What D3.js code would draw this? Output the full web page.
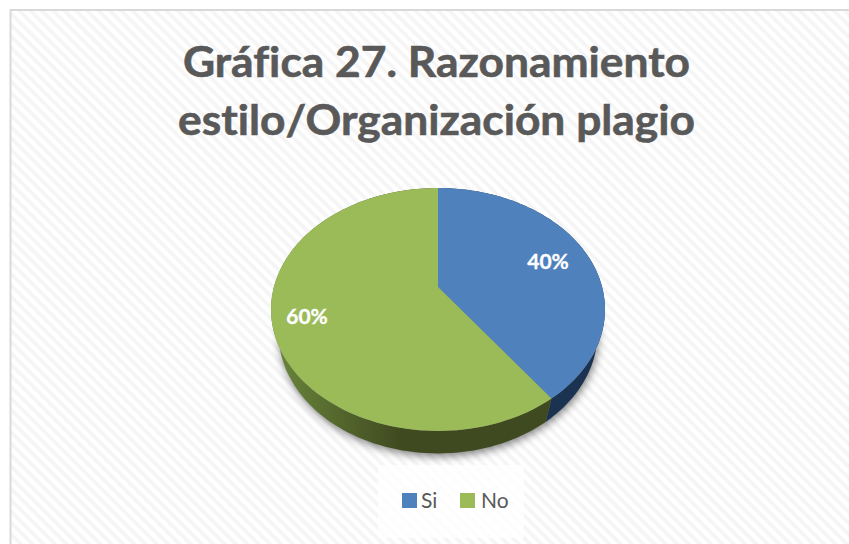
<!DOCTYPE html>
<html><head><meta charset="utf-8">
<script src="https://cdn.jsdelivr.net/npm/d3@7/dist/d3.min.js"></script>
<style>html,body{margin:0;padding:0;background:#fff}svg{display:block}text{font-variant-ligatures:none}</style>
</head><body><svg id="c" width="849" height="544"></svg>
<script>
const titleLines = ["Gráfica 27. Razonamiento", "estilo/Organización plagio"];
const categories = ["Si", "No"];
const values = [40, 60];
const valueLabels = ["40%", "60%"];
const colors = ["#4f81bd", "#9bbb59"];
const FONT = "Lato, 'Open Sans', sans-serif";

const svg = d3.select("#c");
const defs = svg.append("defs");

const pat = defs.append("pattern").attr("id","hatch").attr("width",8).attr("height",8)
  .attr("patternUnits","userSpaceOnUse").attr("patternTransform","rotate(45)");
pat.append("rect").attr("width",8).attr("height",8).attr("fill","#ffffff");
pat.append("rect").attr("width",8).attr("height",3.6).attr("fill","#f5f5f5");

defs.append("filter").attr("id","blur").attr("x","-10%").attr("y","-10%").attr("width","120%").attr("height","120%")
  .append("feGaussianBlur").attr("stdDeviation",4);

const gradGreen = defs.append("linearGradient").attr("id","wallGreen").attr("gradientUnits","userSpaceOnUse")
  .attr("x1",280).attr("x2",400).attr("y1",0).attr("y2",0);
gradGreen.append("stop").attr("offset",0).attr("stop-color","#67833a");
gradGreen.append("stop").attr("offset",1).attr("stop-color","#404a20");

// Chart background and border
svg.append("rect").attr("x",10.5).attr("y",10).attr("width",860).attr("height",560)
  .attr("fill","url(#hatch)").attr("stroke","#d9d9d9").attr("stroke-width",2);

// Title
const titleWidths = [507, 517];
svg.append("g").selectAll("text").data(titleLines).join("text")
  .attr("x",(d,i)=>i?178:183).attr("y",(d,i)=>i?135:76.5)
  .attr("textLength",(d,i)=>titleWidths[i]).attr("lengthAdjust","spacingAndGlyphs")
  .attr("font-family",FONT).attr("font-weight",700)
  .attr("font-size",42).attr("fill","#595959")
  .attr("stroke","#595959").attr("stroke-width",0.6).text(d=>d);

// Perspective projection of the pie's unit disc, fed by d3.pie angles
const cx = 438, cy = 287, a = 164.1, b = 117.3, k = 0.185, depth = 26, shrink = 0.046;
function project(t, r, lower){
  const u = r*Math.sin(t), v = -r*Math.cos(t);
  const w = 1 - k*v + (lower ? shrink : 0);
  return [cx + a*u/w, cy + (b*v + (lower ? depth : 0))/w];
}
const line = d3.line();
const pieGen = d3.pie().sort(null);
const arcs = pieGen(values);
function rim(s, e, lower){
  return d3.range(0, 121).map(i => project(s + (e-s)*i/120, 1, lower));
}

// Drop shadow
svg.append("path")
  .attr("d", line(rim(0, 2*Math.PI, true)) + "Z")
  .attr("transform","translate(1,3)")
  .attr("fill","#000").attr("fill-opacity",0.5).attr("filter","url(#blur)");

// Side walls
const wallFill = ["#1b3350", "url(#wallGreen)"];
svg.append("g").selectAll("path").data(arcs).join("path")
  .attr("d", d => line(rim(d.startAngle,d.endAngle,false).concat(rim(d.startAngle,d.endAngle,true).reverse())) + "Z")
  .attr("fill",(d,i)=>wallFill[i]);

// Top faces
svg.append("g").selectAll("path").data(arcs).join("path")
  .attr("d", d => line([project(0,0,false)].concat(rim(d.startAngle,d.endAngle,false))) + "Z")
  .attr("fill",(d,i)=>colors[i]);

// Value labels
const labelPos = [[548,262],[307,317]];
svg.append("g").selectAll("text").data(valueLabels).join("text")
  .attr("x",(d,i)=>labelPos[i][0]).attr("y",(d,i)=>labelPos[i][1])
  .attr("dy","0.35em").attr("text-anchor","middle").attr("font-family",FONT)
  .attr("font-weight",700).attr("font-size",21).attr("fill","#fff")
  .attr("stroke","#fff").attr("stroke-width",0.3).text(d=>d);

// Legend
svg.append("rect").attr("x",378).attr("y",465).attr("width",146).attr("height",73).attr("fill","#fff").attr("fill-opacity",0.75);
const legendSwatch = [402,460], legendText = [421,481];
const lg = svg.append("g").selectAll("g").data(categories).join("g");
lg.append("rect").attr("x",(d,i)=>legendSwatch[i]).attr("y",493).attr("width",15).attr("height",15)
  .attr("fill",(d,i)=>colors[i]);
lg.append("text").attr("x",(d,i)=>legendText[i]).attr("y",508).attr("font-family",FONT)
  .attr("font-size",21).attr("fill","#595959").text(d=>d);
</script></body></html>
